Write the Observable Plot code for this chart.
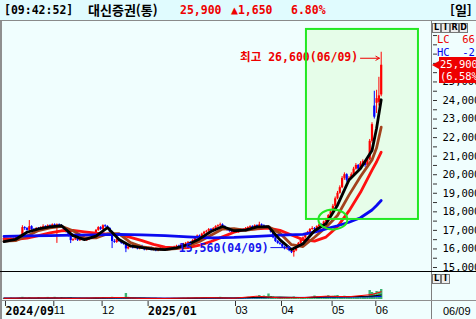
<!DOCTYPE html>
<html lang="ko"><head><meta charset="utf-8">
<script src="https://cdn.jsdelivr.net/npm/d3@7"></script>
<script src="https://cdn.jsdelivr.net/npm/@observablehq/plot@0.6"></script>
<style>
html,body{margin:0;padding:0;background:#f0fefe;overflow:hidden;}
#root{position:relative;width:476px;height:319px;overflow:hidden;background:#f0fefe;}
.a{position:absolute;}
#hdr{left:0;top:0;width:476px;height:20px;background:#e0fbfe;border-bottom:1px solid #8a8a8a;}
.ht{position:absolute;top:3px;font:bold 11.5px "DejaVu Sans Mono","Noto Sans CJK KR",monospace;line-height:15px;white-space:pre;color:#000;}
.kr{font-family:"Noto Sans CJK KR",sans-serif;font-size:13px;top:2px;}
.red{color:#ee0000;}
#mainBox{left:0;top:21px;width:476px;height:251px;}
#volBox{left:0;top:272px;width:476px;height:47px;}
.btn{position:absolute;width:7px;height:8px;border:1px solid #777;background:#ececec;font:bold 8px "DejaVu Sans",sans-serif;line-height:8px;text-align:center;color:#000;}
.lab{position:absolute;font:10.5px "DejaVu Sans Mono",monospace;line-height:12px;white-space:pre;}
svg{display:block;}
</style></head><body><div id="root">
<div id="hdr" class="a">
  <span class="ht" style="left:4px">[09:42:52]</span>
  <span class="ht kr" style="left:88px">대신증권(통)</span>
  <span class="ht red" style="left:180px">25,900</span>
  <span class="ht red" style="left:231px">▲1,650</span>
  <span class="ht red" style="left:291px">6.80%</span>
  <span class="ht kr" style="left:450px">[일]</span>
</div>
<div id="mainBox" class="a"></div>
<div id="volBox" class="a"></div>
</div>
<script>
// ---- daily candles: 2024-09-30 .. 2025-06-09 (trading-day index) ----
const open = [
16550,16450,16500,16450,16550,16500,16600,16550,16700,17150,
17100,17000,17200,17050,17000,17100,17050,17150,17200,17150,
17250,17200,17300,17250,17300,17250,17150,17050,16900,16700,
16450,16500,16550,16450,16500,16550,16450,16500,16550,16600,
16800,17000,17150,17050,17250,17200,17100,16900,16400,16350,
16500,16400,16300,16250,16000,16100,16150,16050,16100,16000,
16150,16050,15950,16000,16050,15950,16000,15900,15950,16050,
16000,15950,16000,16050,16000,16100,16150,16100,16200,16250,
16300,16350,16300,16450,16600,16700,16650,16800,16900,16950,
17050,17000,17100,17200,17250,17300,17200,17100,17000,16950,
16900,16950,16900,17000,17050,17000,17100,17150,17200,17150,
17250,17200,17300,17250,17200,17150,17100,16900,16600,16400,
16300,16250,16100,16000,16050,15900,15800,15900,16100,16300,
16500,16600,16800,16900,17050,17100,17050,17200,17300,17250,
17450,17600,17800,18000,18300,18700,19000,19300,19800,20000,
19700,19800,20000,20300,20500,20300,20600,20700,20500,20800,
21800,23700,23850,23900,24300];
const high = [
16600,16550,16550,16600,16600,16650,16650,16750,17250,17200,
17150,17530,17250,17100,17150,17150,17200,17300,17250,17300,
17300,17350,17350,17350,17350,17300,17200,17100,16950,16750,
16550,16600,16600,16550,16600,16600,16550,16600,16650,16850,
17050,17200,17200,17300,17300,17250,17150,16950,16500,16550,
16550,16450,16350,16300,16150,16200,16200,16150,16150,16200,
16200,16100,16050,16100,16100,16050,16050,16000,16100,16100,
16050,16050,16100,16100,16150,16200,16200,16250,16300,16350,
16400,16400,16500,16650,16750,16750,16850,16950,17000,17100,
17100,17150,17250,17300,17390,17350,17250,17150,17050,17000,
16980,17000,17050,17100,17100,17150,17200,17250,17250,17300,
17300,17440,17350,17300,17250,17200,17150,16950,16650,16450,
16350,16300,16150,16100,16100,15950,15950,16150,16350,16550,
16650,16850,16950,17100,17200,17150,17250,17350,17350,17500,
17650,17850,18100,18400,18800,19100,19400,19900,20100,20050,
19900,20100,20400,20600,20550,20700,20800,20750,20900,21900,
22800,24500,24550,25250,26600];
const low = [
16400,16400,16350,16400,16450,16450,16500,16500,16650,17000,
16950,16950,17000,16950,16950,17000,17000,17100,17100,17100,
17150,17150,17200,16300,17200,17100,17000,16850,16650,16290,
16400,16450,16400,16400,16450,16400,16400,16450,16500,16550,
16750,16950,17000,17000,17150,17050,16850,16020,16300,16300,
16350,16250,16200,15800,15950,16050,16000,16000,15950,15950,
16000,15900,15900,15950,15900,15900,15850,15850,15900,15900,
15900,15900,15950,15950,15950,16050,16050,16050,16150,16200,
16250,16250,16250,16400,16550,16600,16600,16750,16850,16900,
16950,16950,17050,17150,17200,17150,17050,16950,16900,16850,
16850,16850,16850,16950,16950,16950,17050,17100,17100,17100,
17150,17150,17200,17150,17100,17050,16850,16550,16350,16250,
16200,16050,15950,15950,15850,15750,15560,15850,16050,16250,
16450,16550,16750,16850,17000,17000,17000,17150,17150,17200,
17400,17550,17750,17950,18250,18650,18950,19250,19700,19600,
19600,19750,19950,20250,20250,20250,20550,20400,20450,20750,
21700,23000,23300,23700,24200];
const close = [
16450,16500,16400,16550,16500,16600,16550,16700,17150,17100,
17000,17200,17050,17000,17100,17050,17150,17200,17150,17250,
17200,17300,17250,17300,17250,17150,17050,16900,16700,16450,
16500,16550,16450,16500,16550,16450,16500,16550,16600,16800,
17000,17150,17050,17250,17200,17100,16900,16400,16350,16500,
16400,16300,16250,16000,16100,16150,16050,16100,16000,16150,
16050,15950,16000,16050,15950,16000,15900,15950,16050,15950,
15950,16000,16050,16000,16100,16150,16100,16200,16250,16300,
16350,16300,16450,16600,16700,16650,16800,16900,16950,17050,
17000,17100,17200,17250,17300,17200,17100,17000,16950,16900,
16950,16900,17000,17050,17000,17100,17150,17200,17150,17250,
17200,17300,17250,17200,17150,17100,16900,16600,16400,16300,
16250,16100,16000,16050,15900,15800,15900,16100,16300,16500,
16600,16800,16900,17050,17100,17050,17200,17300,17250,17450,
17600,17800,18000,18300,18700,19000,19300,19800,20000,19700,
19800,20000,20300,20500,20300,20600,20700,20500,20800,21800,
22700,23100,24100,24250,25900];
// volume, thousand shares
const volume = [
120,110,100,130,110,100,120,150,220,160,
140,180,130,120,120,200,130,120,140,210,
130,140,220,150,130,200,150,140,160,180,
120,110,100,110,100,100,110,100,120,150,
170,160,140,190,150,130,150,220,160,140,
130,140,160,600,220,150,130,120,110,120,
110,120,100,110,100,110,120,100,110,100,
100,110,100,110,120,110,120,130,140,120,
150,130,140,160,170,150,160,180,190,160,
150,170,180,200,220,170,150,140,130,120,
120,110,130,140,130,150,220,200,210,180,
250,400,300,350,280,550,300,250,200,180,
170,160,150,170,160,180,250,200,170,160,
160,150,170,200,220,350,250,200,230,250,
280,380,300,320,350,400,300,280,330,260,
250,300,280,270,260,300,280,260,300,900,
700,600,800,750,1000];

const maIdx = [0,5,10,15,20,25,30,35,40,45,50,55,60,65,70,75,80,85,90,95,100,105,110,115,120,125,130,135,140,145,150,155,160,162,164];
const ma5  = [16400,16510,16900,17080,17190,17250,16720,16500,16690,17150,16510,16160,16070,15990,15960,16060,16240,16540,16940,17210,16980,17010,17190,17200,16490,15970,16280,16980,17360,18360,19720,20340,21300,22500,24040];
const ma10 = [16420,16450,16700,16990,17130,17220,16980,16610,16600,16820,16830,16340,16110,16030,15980,16020,16160,16400,16740,17070,17090,17000,17100,17200,16850,16230,16130,16630,17170,17800,18900,19900,20800,21450,22560];
const ma20 = [16550,16520,16580,16720,16870,16980,17000,16920,16850,16800,16780,16620,16450,16250,16100,16050,16070,16200,16400,16650,16900,17050,17080,17120,17000,16750,16500,16420,16640,17200,18050,19050,20250,20700,21215];
const ma60Idx = [0,10,20,30,40,50,60,70,80,90,100,110,120,130,135,140,145,150,155,160,162,164];
const ma60 = [16680,16700,16720,16750,16760,16780,16760,16720,16650,16600,16620,16680,16740,16780,16900,17080,17250,17440,17680,18100,18340,18610];
const volMaIdx = [0,10,20,30,40,50,60,70,80,90,100,110,120,130,140,150,160,164];
const volMa5  = [120,150,160,110,160,200,110,110,150,180,130,330,160,190,330,280,500,770];
const volMa20 = [130,140,150,150,140,170,150,110,130,160,150,220,250,190,260,280,340,450];
const volMa60 = [140,140,145,145,145,150,150,140,135,140,145,170,200,210,230,250,270,300];

// axis ticks / labels
const priceTicks = [15000,15500,16000,16500,17000,17500,18000,18500,19000,19500,20000,20500,21000,21500,22000,22500,23000,23500,24000,24500,25000,25500,26000,26500,27000,27500];
const priceLabels = [15000,16000,17000,18000,19000,20000,21000,22000,23000,24000,25000];
const monthIdx = [0,21,42,62,100,120,142,161];
const monthLabel = ["2024/09","11","12","2025/01","03","04","05","06"];
const monthBold = [true,false,false,true,false,false,false,false];

// annotations
const noteText = ["최고 26,600(06/09)", "15,560(04/09)"];
const noteIdx = [164, 126];
const notePrice = [26600, 15560];
const noteColor = ["#ee0000", "#1414ee"];
const boxIdx = [131.5, 180.2];
const boxPrice = [17590, 27830];
const ringIdx = [143];
const ringPrice = [17590];

const bars = close.map((c, i) => ({i, o: open[i], h: high[i], l: low[i], c, v: volume[i]}));
const candleColor = d => d.c >= d.o ? "#ff0000" : "#0000ff";
const series = (idx, vals) => idx.map((i, k) => ({i, v: vals[k]}));
const notes = noteText.map((t, k) => ({t, i: noteIdx[k], p: notePrice[k], col: noteColor[k]}));
const green = "#22e822";
const mono = "DejaVu Sans Mono, Noto Sans CJK KR, monospace";

const ellipse = {draw(ctx) {
  const rx = 14.5, ry = 10, k = 0.5523;
  ctx.moveTo(rx, 0);
  ctx.bezierCurveTo(rx, ry*k, rx*k, ry, 0, ry);
  ctx.bezierCurveTo(-rx*k, ry, -rx, ry*k, -rx, 0);
  ctx.bezierCurveTo(-rx, -ry*k, -rx*k, -ry, 0, -ry);
  ctx.bezierCurveTo(rx*k, -ry, rx, -ry*k, rx, 0);
  ctx.closePath();
}};

const xScale = {domain: [0, 164], range: [3.5, 380.7], axis: null, label: null};

const main = Plot.plot({
  width: 476, height: 251,
  marginLeft: 0, marginRight: 44, marginTop: 0, marginBottom: 0,
  style: {background: "transparent", overflow: "hidden", fontFamily: mono, fontSize: "10.5px", color: "black"},
  x: xScale,
  y: {domain: [15000, 24000], range: [246, 79], axis: null, label: null},
  color: {type: "identity"},
  marks: [
    Plot.rect([{}], {x1: boxIdx[0], x2: boxIdx[1], y1: boxPrice[0], y2: boxPrice[1], fill: "#e6fde9"}),
    Plot.ruleX(bars, {x: "i", y1: "l", y2: "h", stroke: candleColor, strokeWidth: 1}),
    Plot.ruleX(bars, {x: "i", y1: "o", y2: "c", stroke: candleColor, strokeWidth: 2.2}),
    Plot.line(series(maIdx, ma20), {x: "i", y: "v", stroke: "#ff1010", strokeWidth: 2.8}),
    Plot.line(series(maIdx, ma10), {x: "i", y: "v", stroke: "#a3421c", strokeWidth: 2.8}),
    Plot.line(series(ma60Idx, ma60), {x: "i", y: "v", stroke: "#0a0af0", strokeWidth: 2.8}),
    Plot.line(series(maIdx, ma5), {x: "i", y: "v", stroke: "#000000", strokeWidth: 2.8}),
    Plot.text([notes[0]], {x: "i", y: "p", text: "t", fill: "col", textAnchor: "end", dx: -23, dy: 5, fontWeight: "bold", fontSize: 11.5, fontFamily: mono}),
    Plot.arrow([notes[0]], {x1: d => d.i - 9, x2: d => d.i - 0.8, y1: "p", y2: "p", dy: 6, stroke: "col", strokeWidth: 1, headLength: 6}),
    Plot.text([notes[1]], {x: "i", y: "p", text: "t", fill: "col", textAnchor: "end", dx: -25, dy: -9, fontWeight: "bold", fontSize: 11.5, fontFamily: mono}),
    Plot.arrow([notes[1]], {x1: d => d.i - 10, x2: d => d.i - 1.5, y1: "p", y2: "p", dy: -9.5, stroke: "col", strokeWidth: 1, headLength: 5}),
    Plot.rect([{}], {x1: boxIdx[0], x2: boxIdx[1], y1: boxPrice[0], y2: boxPrice[1], fill: "none", stroke: green, strokeWidth: 2}),
    Plot.dot(ringIdx.map((i, k) => ({i, p: ringPrice[k]})), {x: "i", y: "p", symbol: ellipse, fill: "none", stroke: green, strokeWidth: 2}),
    Plot.axisY({anchor: "right", ticks: priceTicks, tickSize: 4, tickPadding: 6, label: null,
      tickFormat: d => priceLabels.includes(d) ? d3.format(",")(d) : "",
      fontSize: 10.5, fontFamily: "DejaVu Sans Mono", fill: "black", stroke: "#333"})
  ]
});
document.getElementById("mainBox").appendChild(main);

const vol = Plot.plot({
  width: 476, height: 47,
  marginLeft: 0, marginRight: 44, marginTop: 0, marginBottom: 18,
  style: {background: "transparent", overflow: "hidden", fontFamily: "Liberation Sans", fontSize: "11px", color: "black"},
  x: xScale,
  y: {domain: [0, 2500], range: [27, 2], axis: null, label: null},
  marks: [
    Plot.ruleX(bars, {x: "i", y1: 0, y2: "v", stroke: "#3cb371", strokeWidth: 2.4}),
    Plot.line(series(volMaIdx, volMa60), {x: "i", y: "v", stroke: "#0000ff", strokeWidth: 1}),
    Plot.line(series(volMaIdx, volMa20), {x: "i", y: "v", stroke: "#000000", strokeWidth: 1}),
    Plot.line(series(volMaIdx, volMa5), {x: "i", y: "v", stroke: "#ff0000", strokeWidth: 1}),
    Plot.axisX({anchor: "bottom", ticks: monthIdx.filter((d, k) => monthBold[k]), tickSize: 5, tickPadding: 0, label: null,
      tickFormat: d => monthLabel[monthIdx.indexOf(d)], textAnchor: "start", dx: 1.5,
      fontWeight: "bold", fontSize: 11.5, fontFamily: "DejaVu Sans Mono", fill: "black", stroke: "#333"}),
    Plot.axisX({anchor: "bottom", ticks: monthIdx.filter((d, k) => !monthBold[k]), tickSize: 5, tickPadding: 0, label: null,
      tickFormat: d => monthLabel[monthIdx.indexOf(d)], textAnchor: "start", dx: 1.5,
      fontSize: 11, fontFamily: "Liberation Sans", fill: "black", stroke: "#333"})
  ]
});
document.getElementById("volBox").appendChild(vol);

// ---- overlays: borders, buttons, right-side labels ----
const root = document.getElementById("root");
function add(style, html, cls) {
  const d = document.createElement("div");
  d.className = cls || "a";
  d.setAttribute("style", style);
  if (html != null) d.innerHTML = html;
  root.appendChild(d);
  return d;
}
add("left:0;top:21px;width:2px;height:298px;background:#8f8f8f;");
add("left:431px;top:21px;width:1px;height:298px;background:#7f7f7f;");
add("left:0;top:271px;width:476px;height:1px;background:#000;");
add("left:0;top:300px;width:476px;height:1px;background:#8f8f8f;");
["L","I","R","D"].forEach((t, k) => add(`left:${432 + k*9}px;top:23px;`, t, "btn"));
["L","I"].forEach((t, k) => add(`left:${432 + k*9}px;top:274px;`, t, "btn"));
add("left:437px;top:33px;color:#ee0000;background:#f0fefe;", "LC  66", "lab");
add("left:437px;top:46px;color:#0000ee;background:#f0fefe;", "HC  -2", "lab");
const yLast = main.scale("y").apply(close[close.length - 1]) + 21;
add(`left:439px;top:${yLast - 8}px;width:37px;height:26px;background:#ee0000;color:#fff;padding-left:1px;padding-top:1px;box-sizing:border-box;`, "25,900\n(6.58%", "lab");
add(`left:432px;top:${yLast - 4}px;width:0;height:0;border-top:4px solid transparent;border-bottom:4px solid transparent;border-right:7px solid #ee0000;`);
add("left:443px;top:305px;font:11px 'Liberation Sans',sans-serif;color:#000;", "06/09");
</script>
</body></html>
